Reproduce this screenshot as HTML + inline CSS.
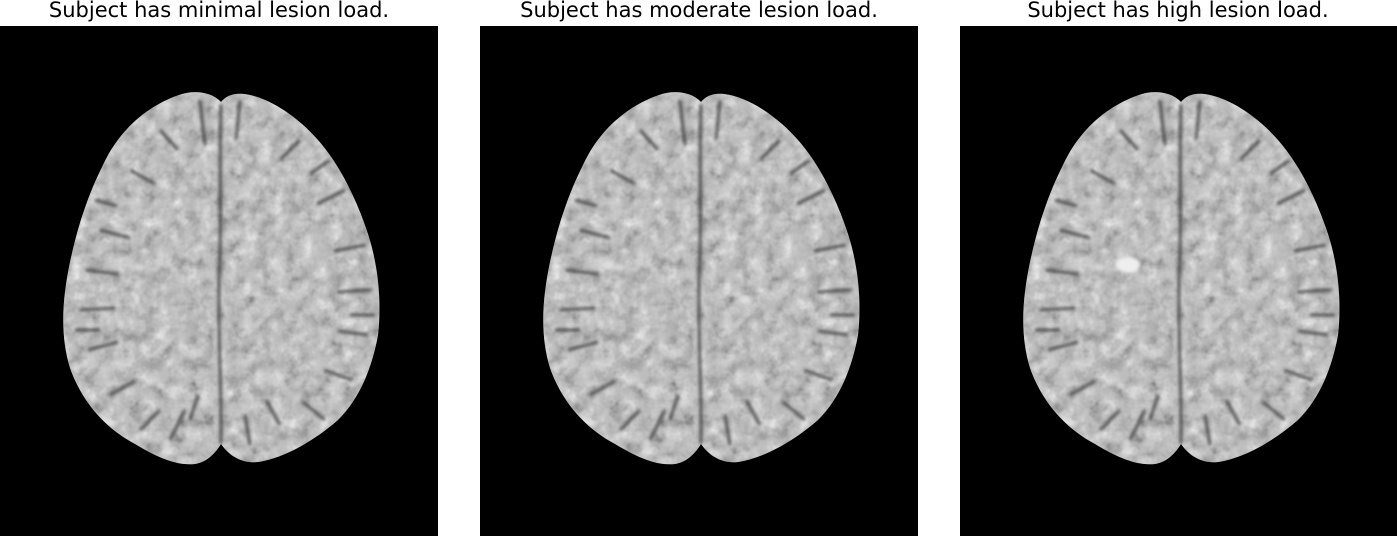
<!DOCTYPE html>
<html><head><meta charset="utf-8">
<style>
html,body{margin:0;padding:0;background:#fff;width:1397px;height:536px;overflow:hidden}
svg{display:block}
text{font-family:"DejaVu Sans","Liberation Sans",sans-serif;font-size:21px;fill:#000}
</style></head>
<body>
<svg width="1397" height="536" viewBox="0 0 1397 536">
<defs>
  <filter id="tex" x="0" y="0" width="100%" height="100%">
    <feTurbulence type="fractalNoise" baseFrequency="0.07" numOctaves="3" seed="4" result="n"/>
    <feColorMatrix in="n" type="matrix" values="1.6 0 0 0 -0.3  1.6 0 0 0 -0.3  1.6 0 0 0 -0.3  0 0 0 0.75 0" result="g"/>
    <feComposite in="g" in2="SourceGraphic" operator="in" result="t"/>
    <feMerge><feMergeNode in="SourceGraphic"/><feMergeNode in="t"/></feMerge>
  </filter>
  <filter id="blur"><feGaussianBlur stdDeviation="1.5"/></filter>
  <g id="brain">
    <path filter="url(#tex)" fill="#bdbdbd" d="M221,102 C212,92 195,90 182,94 C150,104 120,128 103,165 C88,195 78,225 70,262 C62,300 60,335 70,368 C82,402 105,428 135,444 C155,456 175,466 195,464 C208,462 216,452 221,444 C228,454 240,464 258,462 C285,458 315,440 338,420 C360,398 372,368 378,335 C382,300 378,262 366,228 C352,188 332,150 302,124 C284,108 262,96 244,94 C233,93 226,96 221,102 Z"/>
    <g stroke="#333" stroke-width="3" fill="none" filter="url(#blur)" opacity="0.8">
      <path d="M221,104 C219,160 222,220 219,280 C218,340 222,400 221,444"/>
      <path d="M100,230 l30,8 M86,270 l32,4 M80,310 l35,-2 M88,350 l30,-8 M110,395 l25,-14 M140,430 l20,-20 M130,170 l25,14 M160,130 l18,20 M95,200 l22,6 M75,330 l25,0"/>
      <path d="M345,190 l-28,14 M366,245 l-32,6 M372,290 l-35,2 M368,335 l-30,-4 M352,380 l-28,-10 M325,420 l-22,-18 M300,140 l-20,20 M280,425 l-14,-25 M330,160 l-20,14 M375,315 l-25,0"/>
      <path d="M200,100 l5,45 M240,100 l-4,40 M170,440 l15,-30 M250,445 l-5,-30 M190,420 l8,-25"/>
    </g>
  </g>
</defs>

<g>
  <text x="219" y="17" text-anchor="middle">Subject has minimal lesion load.</text>
  <rect x="0" y="26" width="438" height="510" fill="#000"/>
  <use href="#brain"/>
</g>
<g>
  <text x="699" y="17" text-anchor="middle">Subject has moderate lesion load.</text>
  <rect x="480" y="26" width="438" height="510" fill="#000"/>
  <use href="#brain" transform="translate(480,0)"/>
  <ellipse cx="608" cy="265" rx="6" ry="4" fill="#ddd" filter="url(#blur)"/>
  <ellipse cx="745" cy="300" rx="6" ry="4" fill="#ddd" filter="url(#blur)"/>
</g>
<g>
  <text x="1178" y="17" text-anchor="middle">Subject has high lesion load.</text>
  <rect x="960" y="26" width="437" height="510" fill="#000"/>
  <use href="#brain" transform="translate(960,0)"/>
  <ellipse cx="1128" cy="265" rx="12" ry="8" fill="#eee" filter="url(#blur)"/>
</g>
</svg>
</body></html>
